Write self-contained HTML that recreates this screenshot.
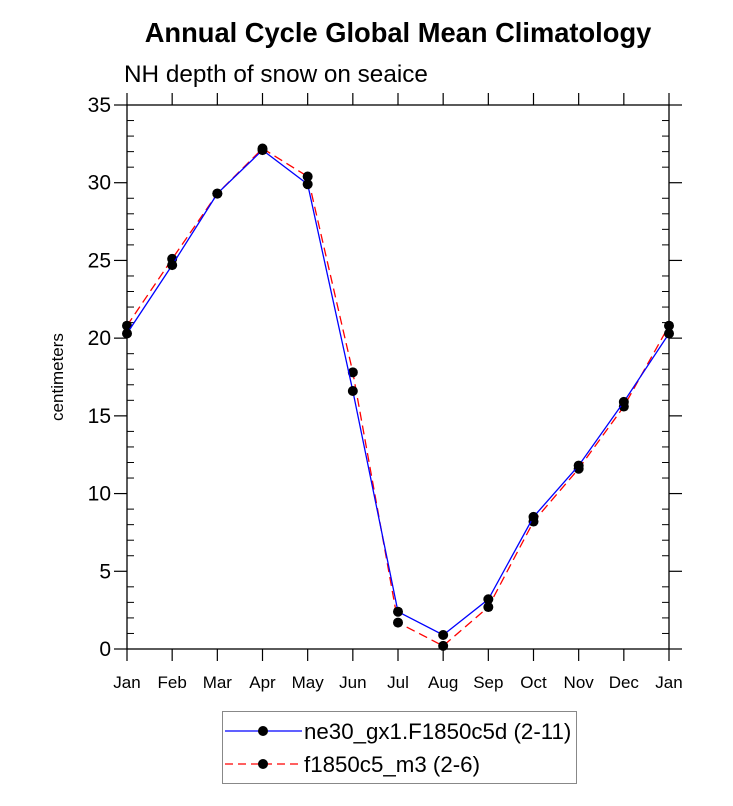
<!DOCTYPE html>
<html><head><meta charset="utf-8"><style>
body{margin:0;background:#fff;}
svg{display:block;font-family:"Liberation Sans",Arial,sans-serif;}
</style></head><body>
<svg id="chart" width="733" height="806">
<text x="398" y="42" text-anchor="middle" font-size="27.3" font-weight="bold">Annual Cycle Global Mean Climatology</text>
<text x="124" y="82" font-size="24.3">NH depth of snow on seaice</text>
<text transform="translate(63,377) rotate(-90)" text-anchor="middle" font-size="17">centimeters</text>
<g id="axes"></g><g id="series"></g>
<g>
<rect x="222.5" y="711.5" width="354" height="72" fill="#fff" stroke="#888" stroke-width="1"/>
<g>
<line x1="225" y1="731" x2="302" y2="731" stroke="#00f" stroke-width="1.2"/>
<circle cx="263" cy="731" r="5" fill="#000"/>
<text x="304" y="739" font-size="22.3">ne30_gx1.F1850c5d (2-11)</text></g>
<g>
<line x1="225" y1="764" x2="302" y2="764" stroke="#f00" stroke-width="1.2" stroke-dasharray="8,5"/>
<circle cx="263" cy="764" r="5" fill="#000"/>
<text x="304" y="772" font-size="22.3">f1850c5_m3 (2-6)</text></g>
</g>
</svg>
<script>
const months=["Jan","Feb","Mar","Apr","May","Jun","Jul","Aug","Sep","Oct","Nov","Dec","Jan"];
const seriesNe30=[20.3,24.7,29.3,32.1,29.9,16.6,2.4,0.9,3.2,8.5,11.8,15.9,20.3];
const seriesF1850=[20.8,25.1,29.3,32.2,30.4,17.8,1.7,0.2,2.7,8.2,11.6,15.6,20.8];
const yTicks=[0,5,10,15,20,25,30,35];
const L=127,R=669,T=105,B=649,YMAX=35;
const x=i=>L+(R-L)*i/(months.length-1);
const y=v=>B-(B-T)*v/YMAX;
const NS="http://www.w3.org/2000/svg";
function mk(tag,at,parent){const e=document.createElementNS(NS,tag);for(const k in at)e.setAttribute(k,at[k]);parent.appendChild(e);return e;}
const ax=document.getElementById('axes');
const frame=mk('rect',{x:L,y:T,width:R-L,height:B-T,fill:'none',stroke:'#000','stroke-width':1.3},ax);


for(let v=0;v<=YMAX;v++){
  if(v%5===0){
    mk('line',{x1:L-13,y1:y(v),x2:L,y2:y(v),stroke:'#000','stroke-width':1.2},ax);
    mk('line',{x1:R,y1:y(v),x2:R+13,y2:y(v),stroke:'#000','stroke-width':1.2},ax);
  }else{
    mk('line',{x1:L,y1:y(v),x2:L+7,y2:y(v),stroke:'#000','stroke-width':1},ax);
    mk('line',{x1:R-7,y1:y(v),x2:R,y2:y(v),stroke:'#000','stroke-width':1},ax);
  }
}
yTicks.forEach(v=>{
  const t=mk('text',{x:L-16,y:y(v)+7,'text-anchor':'end','font-size':21},ax);
  t.textContent=v;
  
  
});
months.forEach((m,i)=>{
  mk('line',{x1:x(i),y1:B,x2:x(i),y2:B+12,stroke:'#000','stroke-width':1.2},ax);
  mk('line',{x1:x(i),y1:T-12,x2:x(i),y2:T,stroke:'#000','stroke-width':1.2},ax);
  const t=mk('text',{x:x(i),y:B+39,'text-anchor':'middle','font-size':17},ax);
  t.textContent=m;
  
  
});
const sg=document.getElementById('series');
function draw(vals,color,dash,name){
  const g=mk('g',{},sg);
  
  
  const p=mk('polyline',{points:vals.map((v,i)=>x(i)+','+y(v)).join(' '),fill:'none',stroke:color,'stroke-width':1.3},g);
  if(dash)p.setAttribute('stroke-dasharray',dash);
  vals.forEach((v,i)=>{
    const c=mk('circle',{cx:x(i),cy:y(v),r:5,fill:'#000'},g);
    
    
  });
}
draw(seriesF1850,'#f00','9,5','series-f1850c5-m3');
draw(seriesNe30,'#00f',null,'series-ne30');
</script>
</body></html>
